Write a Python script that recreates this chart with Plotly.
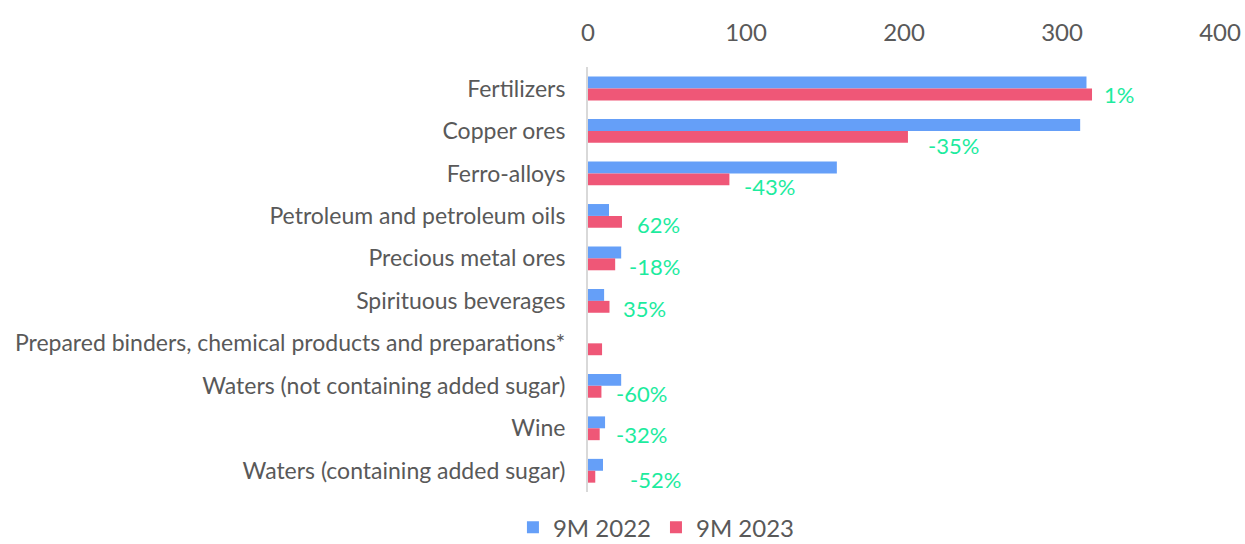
import plotly.graph_objects as go

categories = [
    "Fertilizers",
    "Copper ores",
    "Ferro-alloys",
    "Petroleum and petroleum oils",
    "Precious metal ores",
    "Spirituous beverages",
    "Prepared binders, chemical products and preparations*",
    "Waters (not containing added sugar)",
    "Wine",
    "Waters (containing added sugar)",
]
values_2022 = [315.5, 311.5, 157.5, 13.3, 21.0, 10.2, 0, 21.0, 10.8, 9.5]
values_2023 = [319.0, 202.5, 89.5, 21.5, 17.2, 13.6, 8.9, 8.5, 7.4, 4.6]
change_labels = ["1%", "-35%", "-43%", "62%", "-18%", "35%", "", "-60%", "-32%", "-52%"]
label_xshift = [10, 18, 13, 13, 12, 12, 0, 13, 14, 33]
label_yshift = [-6, -15, -13, -9, -8, -8, 0, -8, -6, -9]
tick_vals = [0, 100, 200, 300, 400]

BLUE = "#659FF8"
RED = "#EF5777"
GREEN = "#1DEB9E"
GREY = "#595959"
FONT = "Lato"

fig = go.Figure()
fig.add_trace(go.Bar(y=categories, x=values_2022, orientation="h", name="9M 2022",
                     marker=dict(color=BLUE, line=dict(width=0))))
fig.add_trace(go.Bar(y=categories, x=values_2023, orientation="h", name="9M 2023",
                     marker=dict(color=RED, line=dict(width=0))))

for cat, v, lab, dx, dy in zip(categories, values_2023, change_labels, label_xshift, label_yshift):
    if not lab:
        continue
    fig.add_annotation(x=v, y=cat, text=lab, showarrow=False, xanchor="left",
                       yanchor="middle", xshift=dx, yshift=dy,
                       font=dict(family=FONT, size=22, color=GREEN))

fig.update_layout(
    width=1245, height=544,
    barmode="group", bargap=0.44, bargroupgap=0,
    plot_bgcolor="white", paper_bgcolor="white",
    margin=dict(l=588, r=25, t=67, b=52, autoexpand=False),
    font=dict(family=FONT, color=GREY),
    xaxis=dict(side="top", range=[0, 400], tickvals=tick_vals, showgrid=False,
               zeroline=False, showline=False, ticks="", automargin=False,
               ticklabelstandoff=20,
               tickfont=dict(size=24, color=GREY)),
    yaxis=dict(autorange="reversed", showgrid=False, showline=True, automargin=False,
               linecolor="#D9D9D9", linewidth=2, ticks="", ticklabelstandoff=16,
               tickfont=dict(size=23, color=GREY)),
    legend=dict(orientation="h", xref="container", yref="container",
                x=0.412, xanchor="left", y=0.03, yanchor="middle",
                font=dict(size=24, color=GREY), itemwidth=30,
                traceorder="normal"),
    showlegend=True,
)

fig.write_html("out.html", config={"displayModeBar": False},
               post_script="document.body.style.margin='0';")
